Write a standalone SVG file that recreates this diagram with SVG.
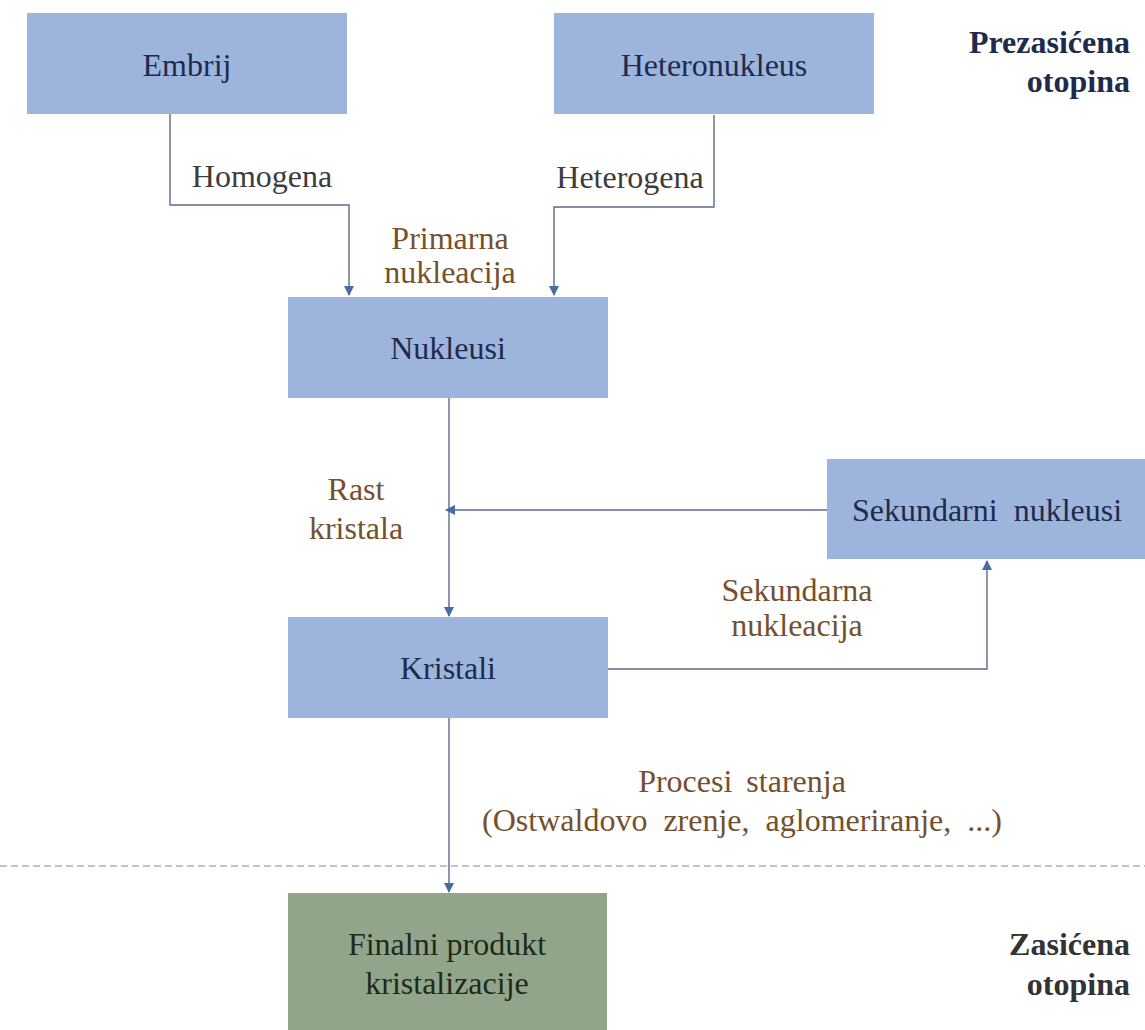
<svg xmlns="http://www.w3.org/2000/svg" width="1145" height="1030" viewBox="0 0 1145 1030">
<defs>
<marker id="ah" viewBox="0 0 10 10" refX="9" refY="5" markerWidth="10" markerHeight="10" markerUnits="userSpaceOnUse" orient="auto">
<path d="M0,0 L10,5 L0,10 z" fill="#4a6aa5"/>
</marker>
<style>
.box{fill:#9db4dd}
.fin{fill:#91a58b}
.bt{font-family:"Liberation Serif","Times New Roman",serif;font-size:32px;fill:#1f2b4d;text-anchor:middle}
.ft{font-family:"Liberation Serif","Times New Roman",serif;font-size:32px;fill:#1e2a1c;text-anchor:middle}
.gl{font-family:"Liberation Serif","Times New Roman",serif;font-size:32px;fill:#3c3c3c;text-anchor:middle}
.br{font-family:"Liberation Serif","Times New Roman",serif;font-size:32px;fill:#74502f;text-anchor:middle}
.bold{font-family:"Liberation Serif","Times New Roman",serif;font-size:32px;font-weight:bold;text-anchor:end}
.ln{fill:none;stroke:#5b6a8a;stroke-width:1.4}
.dash{fill:none;stroke:#7f8794;stroke-width:1.2;stroke-dasharray:7 4}
</style>
</defs>
<rect width="1145" height="1030" fill="#ffffff"/>

<g id="connectors">
<path class="ln" d="M170,113 V205 H349 V295" marker-end="url(#ah)"/>
<path class="ln" d="M714,115 V207 H554 V295" marker-end="url(#ah)"/>
<path class="ln" d="M449,398 V616" marker-end="url(#ah)"/>
<path class="ln" d="M827,510 H446" marker-end="url(#ah)"/>
<path class="ln" d="M607,669 H987 V561" marker-end="url(#ah)"/>
<path class="ln" d="M449,718 V892" marker-end="url(#ah)"/>
<text class="gl" x="262" y="187">Homogena</text>
<text class="gl" x="630" y="188">Heterogena</text>
<text class="br" x="450" y="249">Primarna</text>
<text class="br" x="450" y="283">nukleacija</text>
<text class="br" x="356" y="500">Rast</text>
<text class="br" x="356" y="539">kristala</text>
<text class="br" x="797" y="601">Sekundarna</text>
<text class="br" x="797" y="636">nukleacija</text>
<text class="br" x="742" y="792" word-spacing="6">Procesi starenja</text>
<text class="br" x="742" y="831" word-spacing="8">(Ostwaldovo zrenje, aglomeriranje, ...)</text>
</g>

<line id="boundary" class="dash" x1="0" y1="866" x2="1145" y2="866"/>

<g id="embrij">
<rect class="box" x="27" y="13" width="320" height="101"/>
<text class="bt" x="187" y="76">Embrij</text>
</g>
<g id="heteronukleus">
<rect class="box" x="554" y="13" width="320" height="101"/>
<text class="bt" x="714" y="76">Heteronukleus</text>
</g>
<g id="nukleusi">
<rect class="box" x="288" y="297" width="320" height="101"/>
<text class="bt" x="448" y="359">Nukleusi</text>
</g>
<g id="sekundarni">
<rect class="box" x="827" y="459" width="320" height="100"/>
<text class="bt" x="987" y="521" word-spacing="8">Sekundarni nukleusi</text>
</g>
<g id="kristali">
<rect class="box" x="288" y="617" width="320" height="101"/>
<text class="bt" x="448" y="679">Kristali</text>
</g>
<g id="finalni">
<rect class="fin" x="288" y="893" width="319" height="140"/>
<text class="ft" x="447" y="955">Finalni produkt</text>
<text class="ft" x="447" y="994">kristalizacije</text>
</g>

<g id="prezasicena" class="bold" fill="#1f2b4d">
<text x="1130" y="53" fill="#1f2b4d">Prezasićena</text>
<text x="1130" y="92" fill="#1f2b4d">otopina</text>
</g>
<g id="zasicena" class="bold">
<text x="1130" y="955" fill="#333333">Zasićena</text>
<text x="1130" y="995" fill="#333333">otopina</text>
</g>
</svg>
